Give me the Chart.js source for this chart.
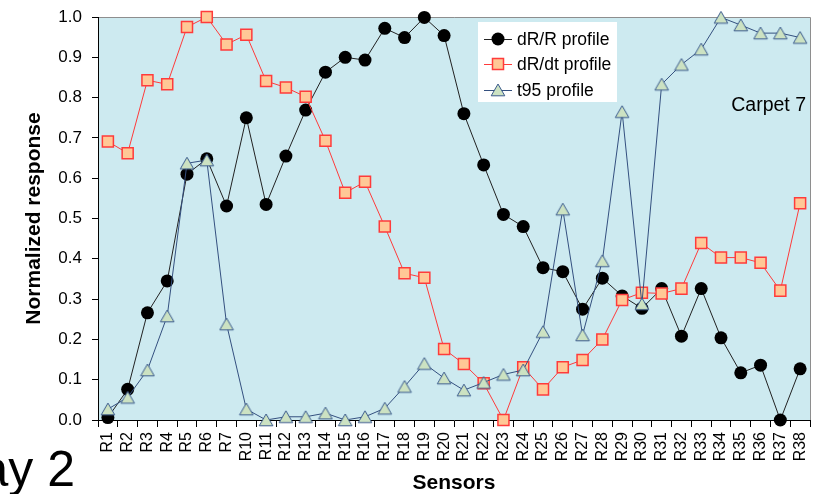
<!DOCTYPE html>
<html>
<head>
<meta charset="utf-8">
<script src="https://cdn.jsdelivr.net/npm/chart.js@4.4.1/dist/chart.umd.min.js"></script>
<style>
html,body{margin:0;padding:0;background:#fff;overflow:hidden;}
#c{display:block;}
</style>
</head>
<body>
<canvas id="c" width="820" height="494"></canvas>
<script>
// ---- data ----
const categories = ['R1','R2','R3','R4','R5','R6','R7','R10','R11','R12','R13','R14','R15','R16','R17','R18','R19','R20','R21','R22','R23','R24','R25','R26','R27','R28','R29','R30','R31','R32','R33','R34','R35','R36','R37','R38'];
const dRR = [0.006,0.076,0.266,0.345,0.610,0.648,0.531,0.750,0.535,0.655,0.769,0.863,0.900,0.893,0.972,0.949,0.999,0.954,0.760,0.633,0.510,0.480,0.378,0.368,0.275,0.352,0.308,0.277,0.326,0.208,0.326,0.204,0.117,0.136,0.000,0.127];
const dRdt = [0.691,0.662,0.843,0.833,0.975,1.000,0.932,0.956,0.841,0.825,0.802,0.693,0.564,0.591,0.480,0.364,0.353,0.176,0.139,0.091,0.000,0.131,0.076,0.131,0.149,0.200,0.298,0.316,0.314,0.326,0.439,0.403,0.403,0.390,0.321,0.538];
const t95 = [0.027,0.056,0.124,0.258,0.637,0.645,0.238,0.027,0.000,0.008,0.008,0.017,0.000,0.008,0.029,0.083,0.140,0.104,0.074,0.093,0.113,0.124,0.219,0.523,0.211,0.395,0.765,0.288,0.833,0.882,0.920,0.999,0.980,0.960,0.960,0.949];
const seriesNames = ['dR/R profile','dR/dt profile','t95 profile'];
const yTicks = [0,0.1,0.2,0.3,0.4,0.5,0.6,0.7,0.8,0.9,1.0];

const FONT = "'Liberation Sans', Arial, sans-serif";

// triangle marker as canvas (centered bbox)
function makeTriangle(){
  const c = document.createElement('canvas');
  c.width = 16; c.height = 16;
  const g = c.getContext('2d');
  g.beginPath();
  g.moveTo(8, 2);
  g.lineTo(14.8, 13.8);
  g.lineTo(1.2, 13.8);
  g.closePath();
  g.fillStyle = '#CCE2C2';
  g.fill();
  g.strokeStyle = '#3A5A8C';
  g.lineWidth = 1;
  g.stroke();
  return c;
}
const tri = makeTriangle();

const bgPlugin = {
  id: 'bg',
  beforeDraw(chart){
    const {ctx, chartArea:a} = chart;
    ctx.save();
    ctx.fillStyle = '#CDEAF0';
    ctx.fillRect(a.left, a.top, a.right - a.left, a.bottom - a.top);
    ctx.strokeStyle = '#8E8E8E';
    ctx.lineWidth = 1;
    ctx.beginPath();
    ctx.moveTo(a.left, a.top + 0.5);
    ctx.lineTo(a.right + 0.5, a.top + 0.5);
    ctx.lineTo(a.right + 0.5, a.bottom);
    ctx.stroke();
    ctx.restore();
  },
  afterDraw(chart){
    const ctx = chart.ctx;
    ctx.save();
    // legend box
    ctx.fillStyle = '#FFFFFF';
    ctx.fillRect(478, 22, 139, 80);
    const ys = [39, 64, 90];
    const ds = chart.data.datasets;
    ds.forEach((d, i) => {
      const y = ys[i];
      ctx.strokeStyle = d.borderColor;
      ctx.lineWidth = 1;
      ctx.beginPath();
      ctx.moveTo(484, y + 0.5);
      ctx.lineTo(512, y + 0.5);
      ctx.stroke();
      if (i === 0) {
        ctx.beginPath();
        ctx.arc(498, y, 6.5, 0, Math.PI * 2);
        ctx.fillStyle = '#000';
        ctx.fill();
      } else if (i === 1) {
        ctx.fillStyle = d.pointBackgroundColor;
        ctx.fillRect(492.5, y - 5.5, 11, 11);
        ctx.strokeStyle = d.pointBorderColor;
        ctx.lineWidth = 1.5;
        ctx.strokeRect(492.5, y - 5.5, 11, 11);
      } else {
        ctx.drawImage(tri, 490, y - 8);
      }
      ctx.fillStyle = '#000';
      ctx.font = '17.5px ' + FONT;
      ctx.textBaseline = 'middle';
      ctx.textAlign = 'left';
      ctx.fillText(d.label, 517, y + 1);
    });
    // annotation
    ctx.font = '19.5px ' + FONT;
    ctx.textAlign = 'right';
    ctx.textBaseline = 'middle';
    ctx.fillText('Carpet 7', 806, 106);
    // clipped slide text
    ctx.font = '50px ' + FONT;
    ctx.textAlign = 'right';
    ctx.textBaseline = 'alphabetic';
    ctx.fillText('ay 2', 75, 486);
    ctx.restore();
  }
};

new Chart(document.getElementById('c'), {
  type: 'line',
  data: {
    labels: categories,
    datasets: [
      {
        label: seriesNames[0], data: dRR, order: 3,
        borderColor: '#222222', borderWidth: 1,
        pointStyle: 'circle', pointRadius: 6.5, pointHoverRadius: 6.5,
        pointBackgroundColor: '#000000', pointBorderColor: '#000000', pointBorderWidth: 0,
        tension: 0, clip: false
      },
      {
        label: seriesNames[1], data: dRdt, order: 2,
        borderColor: '#FF3B3B', borderWidth: 1,
        pointStyle: 'rect', pointRadius: 7.8, pointHoverRadius: 7.8,
        pointBackgroundColor: '#FFC896', pointBorderColor: '#FF3B3B', pointBorderWidth: 1.5,
        tension: 0, clip: false
      },
      {
        label: seriesNames[2], data: t95, order: 1,
        borderColor: '#34507F', borderWidth: 1,
        pointStyle: tri, pointRadius: 7, pointHoverRadius: 7,
        pointBackgroundColor: '#CCE2C2', pointBorderColor: '#3A5A8C',
        tension: 0, clip: false
      }
    ]
  },
  options: {
    responsive: false,
    animation: false,
    events: [],
    layout: { padding: { left: 0, top: 17, right: 10, bottom: 0 } },
    plugins: { legend: { display: false }, tooltip: { enabled: false } },
    scales: {
      x: {
        type: 'category',
        offset: true,
        grid: { display: true, drawOnChartArea: false, drawTicks: true, tickLength: 7, color: '#000', offset: true },
        border: { display: true, color: '#000', width: 1 },
        ticks: { autoSkip: false, maxRotation: 90, minRotation: 90, padding: 5, color: '#000', font: { family: FONT, size: 16 } },
        title: { display: true, text: 'Sensors', color: '#000', font: { family: FONT, size: 21, weight: 'bold', lineHeight: 1.0 }, padding: { top: 0, bottom: 0 } },
        afterFit(s){ s.height = 74; s.paddingLeft = 0; s.paddingRight = 0; }
      },
      y: {
        min: 0, max: 1,
        afterBuildTicks(s){ s.ticks = yTicks.map(v => ({ value: v })); },
        grid: { display: true, drawOnChartArea: false, drawTicks: true, tickLength: 6, color: '#000' },
        border: { display: true, color: '#000', width: 1 },
        ticks: { padding: 10, color: '#000', font: { family: FONT, size: 17 }, callback: v => Number(v).toFixed(1) },
        title: { display: true, text: 'Normalized response', color: '#000', font: { family: FONT, size: 21, weight: 'bold', lineHeight: 1.2 }, padding: { top: 22, bottom: 0 } },
        afterFit(s){ s.width = 98; s.paddingTop = 0; s.paddingBottom = 0; }
      }
    }
  },
  plugins: [bgPlugin]
});
</script>
</body>
</html>
